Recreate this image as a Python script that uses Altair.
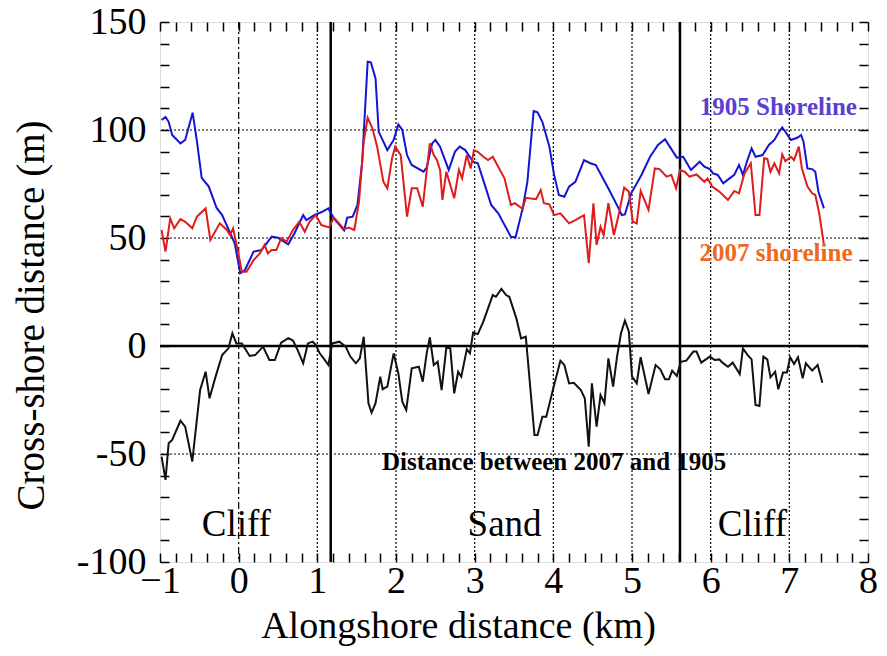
import altair as alt
import pandas as pd
import numpy as np

# ---------------- data ----------------
x1905 = [-0.98, -0.93, -0.89, -0.845, -0.74, -0.68, -0.585, -0.53, -0.47, -0.38,
         -0.28, -0.21, -0.05, 0.02, 0.08, 0.19, 0.29, 0.42, 0.50, 0.63,
         0.71, 0.82, 0.86, 0.96, 1.05, 1.14, 1.21, 1.34, 1.38, 1.45,
         1.51, 1.57, 1.64, 1.68, 1.74, 1.78, 1.82, 1.89, 1.97, 2.03,
         2.08, 2.14, 2.20, 2.35, 2.39, 2.46, 2.50, 2.56, 2.67, 2.75,
         2.81, 2.88, 2.98, 3.04, 3.13, 3.21, 3.30, 3.46, 3.52, 3.61,
         3.67, 3.75, 3.80, 3.86, 3.95, 4.01, 4.07, 4.14, 4.20, 4.28,
         4.39, 4.47, 4.54, 4.62, 4.70, 4.83, 4.87, 4.91, 4.99, 5.12,
         5.23, 5.33, 5.42, 5.48, 5.57, 5.65, 5.75, 5.86, 5.92, 5.99,
         6.03, 6.09, 6.16, 6.24, 6.30, 6.36, 6.41, 6.46, 6.52, 6.57,
         6.66, 6.74, 6.81, 6.87, 6.91, 6.95, 7.02, 7.10, 7.15, 7.18,
         7.23, 7.29, 7.33, 7.37, 7.44]
y1905 = [104.6, 106, 103.8, 97.7, 93.8, 95.4, 108, 94.6, 77.8, 73.8,
         63.9, 60.6, 47.5, 33.7, 35.2, 43.7, 44.4, 50.6, 50.1, 47.1,
         52.2, 60.6, 58.3, 60.6, 61.9, 63.7, 59.1, 53.5, 59.4, 59.9,
         65.3, 85.3, 131.6, 131.3, 123.9, 99.2, 96.1, 90.7, 95.4, 102.6,
         100, 88.4, 83.8, 80.7, 82.6, 93.8, 95.4, 92.3, 81.5, 90,
         92.3, 90.7, 85.3, 84.6, 74.5, 65.3, 61.4, 50.6, 50.3, 63.7,
         76, 108.8, 108.2, 103.8, 92.3, 79.2, 69.9, 69.1, 73.8, 76,
         86.1, 84.6, 83.8, 78.4, 72.9, 63.7, 60.6, 60.9, 70.7, 79.2,
         87.6, 93.1, 95.7, 92.3, 87.2, 87.6, 81.5, 85.3, 83, 81.9,
         79.9, 79.2, 75.3, 77.6, 79.2, 83.8, 79.2, 85.3, 91.5, 87.6,
         88.4, 93.1, 95.4, 99.2, 101.2, 99.2, 95.4, 96.4, 97.7, 94.6,
         82.2, 81.9, 80.7, 71.4, 63.7]

x2007 = [-0.98, -0.93, -0.87, -0.82, -0.74, -0.68, -0.59, -0.53, -0.42, -0.36,
         -0.24, -0.15, -0.11, -0.07, 0.0, 0.04, 0.10, 0.19, 0.27, 0.33,
         0.37, 0.42, 0.48, 0.54, 0.61, 0.69, 0.77, 0.84, 0.90, 0.98,
         1.05, 1.15, 1.21, 1.34, 1.40, 1.47, 1.53, 1.59, 1.64, 1.70,
         1.76, 1.84, 1.89, 1.95, 1.99, 2.06, 2.14, 2.20, 2.27, 2.34,
         2.43, 2.48, 2.52, 2.56, 2.59, 2.64, 2.74, 2.80, 2.84, 2.90,
         2.95, 2.99, 3.04, 3.11, 3.17, 3.23, 3.30, 3.38, 3.46, 3.51,
         3.61, 3.65, 3.78, 3.84, 3.88, 3.95, 4.01, 4.09, 4.20, 4.28,
         4.39, 4.45, 4.51, 4.55, 4.60, 4.64, 4.70, 4.77, 4.83, 4.90,
         4.96, 5.01, 5.06, 5.11, 5.21, 5.29, 5.35, 5.44, 5.50, 5.56,
         5.61, 5.67, 5.73, 5.82, 5.92, 5.96, 6.02, 6.11, 6.22, 6.30,
         6.36, 6.43, 6.51, 6.57, 6.62, 6.68, 6.72, 6.76, 6.81, 6.87,
         6.91, 6.95, 7.02, 7.06, 7.12, 7.16, 7.23, 7.29, 7.33, 7.38,
         7.44]
y2007 = [53.7, 43.7, 59.1, 54.5, 58.8, 57.5, 54.5, 59.9, 63.7, 49.1,
         56.8, 53.7, 51.4, 54.5, 42.1, 34.4, 34.4, 39.8, 42.9, 46.8,
         42.9, 44.4, 44.4, 49.9, 48.3, 53.7, 57.5, 52.9, 57.5, 60.6,
         56, 54.9, 59.5, 54.1, 54.8, 53.7, 66.8, 94.6, 105.7, 100.8,
         92.3, 76, 73, 86.9, 92.3, 88.4, 59.9, 73, 73, 64.5,
         93.8, 88.4, 86.1, 81.5, 67.6, 80.7, 68.4, 81.5, 77.6, 88.4,
         82.2, 90.7, 89.9, 87.6, 86.1, 87.6, 83, 77.5, 65.3, 66.1,
         63.5, 68.6, 68, 72.2, 66.1, 65.6, 60.6, 61.4, 56.8, 58.3,
         60.6, 38.3, 66.1, 46.8, 55.2, 51.4, 66.1, 51.4, 60.6, 73.3,
         71.5, 57.5, 56.8, 71.8, 63, 82.2, 81.9, 78.4, 79.2, 73,
         81.5, 80.7, 78.4, 79.4, 76, 77.6, 73.8, 71.5, 67.6, 71.8,
         70.7, 79.9, 84.6, 60.6, 60.6, 86.9, 86.6, 80.7, 84.6, 79.9,
         88.7, 85.6, 87.6, 86.1, 92.3, 82.2, 73.8, 70.7, 69.9, 61.4,
         46.8]

xdiff = [-0.98, -0.93, -0.89, -0.845, -0.74, -0.68, -0.59, -0.49, -0.42, -0.37,
         -0.30, -0.21, -0.13, -0.08, -0.03, 0.04, 0.14, 0.21, 0.31, 0.39,
         0.46, 0.54, 0.63, 0.69, 0.75, 0.82, 0.88, 0.94, 0.98, 1.03,
         1.09, 1.14, 1.19, 1.28, 1.36, 1.42, 1.49, 1.54, 1.59, 1.65,
         1.69, 1.74, 1.80, 1.83, 1.89, 1.97, 2.03, 2.08, 2.13, 2.20,
         2.29, 2.34, 2.39, 2.43, 2.48, 2.53, 2.58, 2.64, 2.69, 2.74,
         2.79, 2.83, 2.90, 2.94, 2.98, 3.04, 3.11, 3.17, 3.23, 3.27,
         3.34, 3.40, 3.44, 3.53, 3.59, 3.65, 3.76, 3.80, 3.86, 3.91,
         4.01, 4.09, 4.14, 4.20, 4.26, 4.35, 4.40, 4.45, 4.49, 4.55,
         4.60, 4.65, 4.70, 4.76, 4.81, 4.86, 4.91, 4.96, 5.00, 5.06,
         5.11, 5.21, 5.30, 5.36, 5.42, 5.47, 5.51, 5.57, 5.62, 5.69,
         5.78, 5.82, 5.88, 5.99, 6.05, 6.11, 6.15, 6.22, 6.28, 6.37,
         6.41, 6.47, 6.52, 6.57, 6.62, 6.67, 6.72, 6.76, 6.82, 6.86,
         6.92, 6.97, 7.01, 7.06, 7.11, 7.17, 7.21, 7.29, 7.36, 7.42]
ydiff = [-51.2, -62, -45, -43.5, -34.6, -37.3, -53.5, -20.4, -11.9, -24.2,
         -15, -4.2, -1.1, 5.9, 1.2, 1.2, -4.6, -4.2, -0.3, -6.5,
         -6.5, 1.5, 3.6, 2.5, -1.9, -8, 1.2, 2, 0.5, -3.4,
         -6.2, -8.8, 1.2, 2, -0.3, -4.9, -8, -5.7, 4.3, -26.5,
         -30.9, -26.5, -14.2, -20, -18.8, -3.4, -12.7, -25.8, -29.6, -10.3,
         -9.6, -16.5, -3.4, 4, -8.8, -7.3, -20.4, -0.6, -1.1, -21.9,
         -11.9, -14.2, -1.5, -3.4, 6.2, 5.5, 11.3, 17.4, 23.6, 22.8,
         26.4, 23.6, 22.8, 12.8, 3.5, 4.3, -41.2, -41.2, -32.7, -32.7,
         -18.1, -6.8, -8.8, -17.3, -17, -20.4, -24.2, -46.6, -17.3, -37.3,
         -22.7, -26.5, -5.7, -18.8, -4.9, 5.9, 11.7, 6.6, -14.2, -17.3,
         -5.2, -22.2, -8.8, -10.8, -15.4, -15.4, -11.4, -13.9, -7.3, -6.8,
         -2.6, -2.6, -7.7, -4.9, -6.5, -6.2, -7.7, -9.6, -7.7, -13,
         -1.1, -4.2, -6.2, -27.3, -27.8, -4.9, -6.2, -14.5, -11.9, -20,
         -12.3, -12.3, -5.2, -8.3, -5.2, -15, -8, -11.4, -8.8, -17]

series_names = ["1905", "2007", "diff"]
series_colors = ["#1414d2", "#de1c1c", "#111111"]
series_widths = [2.0, 2.0, 1.6]

x_labels = [-1, 0, 1, 2, 3, 4, 5, 6, 7, 8]
y_labels = [-100, -50, 0, 50, 100, 150]
x_minor = [round(v, 1) for v in np.arange(-1, 8.001, 0.2)]
y_minor = list(range(-100, 151, 10))

dotted_x = [1, 2, 3, 4, 5, 6, 7]
dashdot_x = [0]
boundary_x = [1.17, 5.61]
dotted_y = [100, 50, -50]
zero_y = [0]

region_text = ["Cliff", "Sand", "Cliff"]
region_x = [-0.03, 3.38, 6.53]
region_y = [-83, -83, -83]

# ---------------- build chart ----------------
FONT = "Liberation Serif"
W, H = 708, 540
LEFT = 152

lines_df = pd.concat([
    pd.DataFrame({"x": x1905, "y": y1905, "series": "1905"}),
    pd.DataFrame({"x": x2007, "y": y2007, "series": "2007"}),
    pd.DataFrame({"x": xdiff, "y": ydiff, "series": "diff"}),
], ignore_index=True)

xs = alt.Scale(domain=[-1, 8], nice=False, zero=False)
ys = alt.Scale(domain=[-100, 150], nice=False, zero=False)


def minor_axis(orient, values, offset):
    return alt.Axis(orient=orient, values=values, offset=offset, labels=False,
                    domain=False, grid=False, ticks=True, tickSize=9,
                    tickColor="black", tickWidth=1.5, title=None)


lines = alt.Chart(lines_df).mark_line(clip=True).encode(
    x=alt.X("x:Q", scale=xs, axis=alt.Axis(
        orient="bottom", values=x_labels, ticks=False, domain=False, grid=False,
        labelFlush=False, labelOverlap=False,
        labelFont=FONT, labelFontSize=38, labelColor="black", labelPadding=0,
        title="Alongshore distance (km)", titleFont=FONT, titleFontSize=38,
        titleFontWeight="normal", titleColor="black",
        titleX=298, titleY=75, titleAlign="center", titleBaseline="alphabetic")),
    y=alt.Y("y:Q", scale=ys, axis=alt.Axis(
        orient="left", values=y_labels, ticks=False, domain=False, grid=False,
        labelFlush=False, labelOverlap=False,
        labelExpr="toString(datum.value)",
        labelFont=FONT, labelFontSize=38, labelColor="black", labelPadding=14,
        title="Cross-shore distance (m)", titleFont=FONT, titleFontSize=39,
        titleFontWeight="normal", titleColor="black",
        titleX=-129, titleY=293, titleAngle=-90, titleAlign="center", titleBaseline="middle")),
    color=alt.Color("series:N", scale=alt.Scale(domain=series_names, range=series_colors), legend=None),
    strokeWidth=alt.StrokeWidth("series:N", scale=alt.Scale(domain=series_names, range=series_widths), legend=None),
)

vdot = alt.Chart(pd.DataFrame({"x": dotted_x})).mark_rule(
    color="black", strokeWidth=1.2, strokeDash=[2, 2]).encode(
    x=alt.X("x:Q", scale=xs, axis=minor_axis("top", x_minor, -H)))

vdashdot = alt.Chart(pd.DataFrame({"x": dashdot_x})).mark_rule(
    color="black", strokeWidth=1.2, strokeDash=[7, 3, 2, 3]).encode(
    x=alt.X("x:Q", scale=xs, axis=minor_axis("bottom", x_minor, -H)))

vbound = alt.Chart(pd.DataFrame({"x": boundary_x})).mark_rule(
    color="black", strokeWidth=2.5).encode(
    x=alt.X("x:Q", scale=xs, axis=None))

hdot = alt.Chart(pd.DataFrame({"y": dotted_y})).mark_rule(
    color="black", strokeWidth=1.2, strokeDash=[2, 2]).encode(
    y=alt.Y("y:Q", scale=ys, axis=minor_axis("right", y_minor, -W)))

hzero = alt.Chart(pd.DataFrame({"y": zero_y})).mark_rule(
    color="black", strokeWidth=2.5).encode(
    y=alt.Y("y:Q", scale=ys, axis=minor_axis("left", y_minor, -W)))

regions = alt.Chart(pd.DataFrame({"x": region_x, "y": region_y, "t": region_text})).mark_text(
    font=FONT, fontSize=37, color="black", align="center", baseline="middle").encode(
    x=alt.X("x:Q", scale=xs, axis=None), y=alt.Y("y:Q", scale=ys, axis=None), text="t:N")

ann = [
    ("1905 Shoreline", 6.86, 110.5, "#5b3fd0", 25),
    ("2007 shoreline", 6.83, 43, "#ea6a1e", 25),
    ("Distance between 2007 and 1905", 4.01, -53.5, "black", 25),
]
ann_layers = []
for t, ax_, ay_, c, s in ann:
    ann_layers.append(
        alt.Chart(pd.DataFrame({"x": [ax_], "y": [ay_], "t": [t]})).mark_text(
            font=FONT, fontSize=s, fontWeight="bold", color=c, align="center", baseline="middle").encode(
            x=alt.X("x:Q", scale=xs, axis=None), y=alt.Y("y:Q", scale=ys, axis=None), text="t:N"))

chart = alt.layer(vdot, vdashdot, vbound, hdot, hzero, lines, regions, *ann_layers).resolve_axis(
    x="independent", y="independent"
).properties(
    width=W, height=H,
    autosize=alt.AutoSizeParams(type="none"),
    padding={"left": LEFT, "top": 14, "right": 10, "bottom": 86},
).configure_view(stroke="black", strokeWidth=2.5).configure(background="white")

chart.save("out.html", embed_options={"renderer": "svg", "actions": False})
